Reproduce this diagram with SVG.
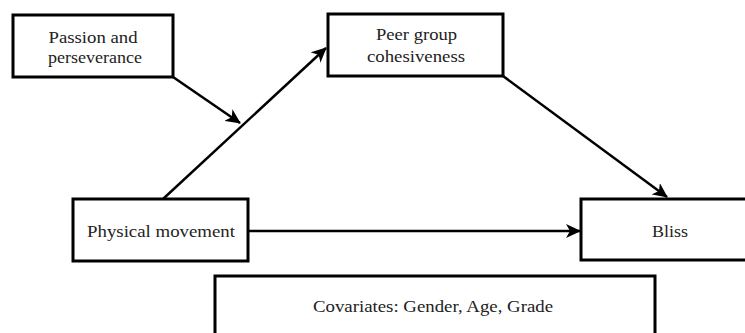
<svg xmlns="http://www.w3.org/2000/svg" width="745" height="333" viewBox="0 0 745 333">
<style>
.box{fill:#fff;stroke:#000;stroke-width:3}
.t{font-family:"Liberation Serif","Times New Roman",serif;font-size:17px;fill:#222;text-anchor:middle}
.c{fill:none;stroke:#000;stroke-width:2.5}
</style>
<defs>
<marker id="ah" markerUnits="userSpaceOnUse" markerWidth="16" markerHeight="14" refX="14" refY="7" orient="auto">
<path d="M0,0 L15,7 L0,14 L4,7 z" fill="#000"/>
</marker>
</defs>
<g id="connectors">
<line class="c" x1="163" y1="199" x2="326" y2="48" marker-end="url(#ah)"/>
<line class="c" x1="173" y1="77" x2="240" y2="123" marker-end="url(#ah)"/>
<line class="c" x1="503" y1="76" x2="667" y2="197" marker-end="url(#ah)"/>
<line class="c" x1="248" y1="231" x2="580" y2="231" marker-end="url(#ah)"/>
</g>
<g id="passion">
<rect class="box" x="13" y="15" width="160" height="62"/>
<text class="t" x="93" y="43" textLength="89" lengthAdjust="spacingAndGlyphs">Passion and</text>
<text class="t" x="95" y="63" textLength="94" lengthAdjust="spacingAndGlyphs">perseverance</text>
</g>
<g id="peer">
<rect class="box" x="328" y="14" width="175" height="62"/>
<text class="t" x="416.5" y="40" textLength="81" lengthAdjust="spacingAndGlyphs">Peer group</text>
<text class="t" x="416" y="62" textLength="98" lengthAdjust="spacingAndGlyphs">cohesiveness</text>
</g>
<g id="physical">
<rect class="box" x="73" y="199" width="175" height="62"/>
<text class="t" x="161" y="237" textLength="148" lengthAdjust="spacingAndGlyphs">Physical movement</text>
</g>
<g id="bliss">
<rect class="box" x="581" y="199" width="170" height="61"/>
<text class="t" x="670" y="237" textLength="36" lengthAdjust="spacingAndGlyphs">Bliss</text>
</g>
<g id="covariates">
<rect class="box" x="215" y="276" width="440" height="70"/>
<text class="t" x="433" y="312" textLength="240" lengthAdjust="spacingAndGlyphs">Covariates: Gender, Age, Grade</text>
</g>
</svg>
